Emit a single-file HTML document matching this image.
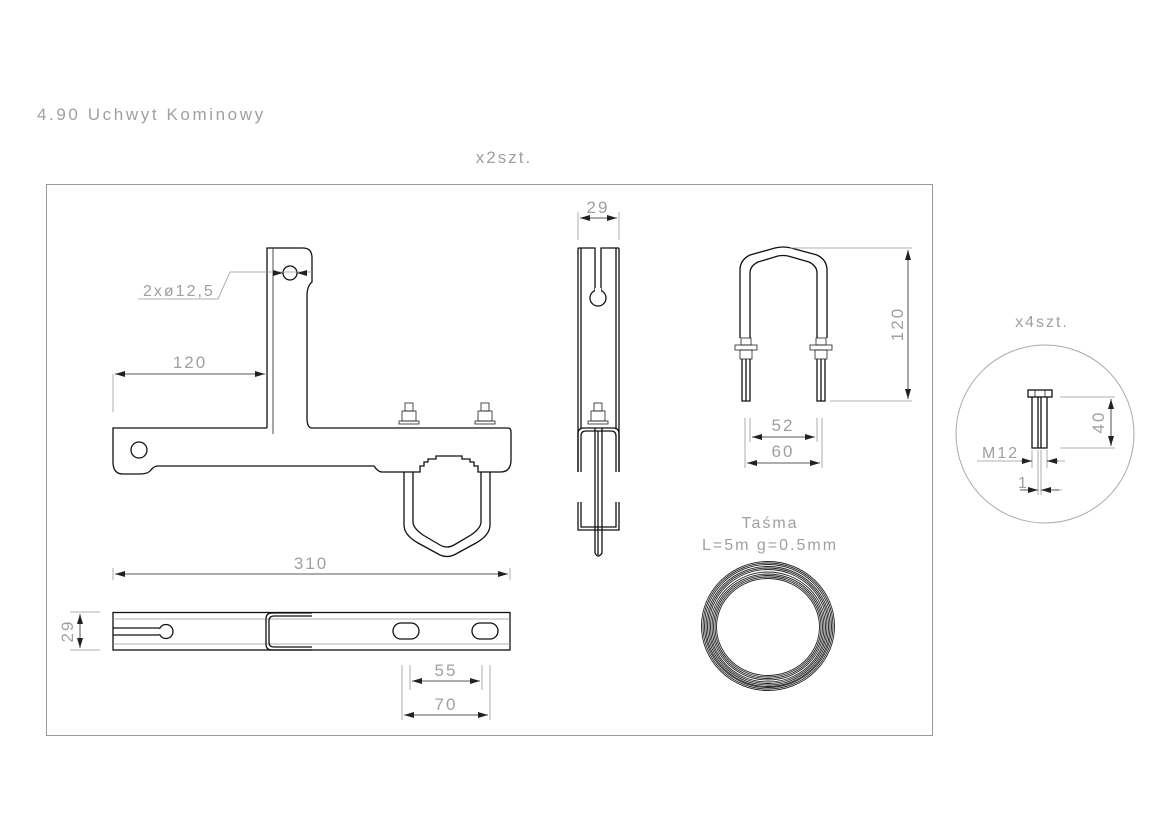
<!DOCTYPE html>
<html><head><meta charset="utf-8"><style>
html,body{margin:0;padding:0;background:#fff}
svg{display:block}
text{font-family:"Liberation Sans",sans-serif;fill:#a0a0a0;letter-spacing:2px}
.k{stroke:#111;stroke-width:1.3;fill:none}
.t{stroke:#222;stroke-width:.8;fill:none}
.g{stroke:#999;stroke-width:.8;fill:none}
</style></head><body>
<svg width="1173" height="824" viewBox="0 0 1173 824">
<defs><marker id="a" viewBox="0 0 10 6" refX="10" refY="3" markerWidth="10" markerHeight="6" orient="auto-start-reverse" markerUnits="userSpaceOnUse"><path d="M0,0L10,3L0,6z" fill="#222"/></marker></defs>
<text x="37" y="120" font-size="17" style="letter-spacing:2.6px">4.90 Uchwyt Kominowy</text>
<text x="504" y="163" font-size="17" text-anchor="middle">x2szt.</text>
<rect x="46.5" y="184.5" width="886" height="551" fill="none" stroke="#999" stroke-width="1"/>

<!-- T bracket -->
<path class="k" d="M267,428 V248 H303 Q312,248 312,258 V282 Q307,286 307,296 V418 Q307,428 312,428 H508 Q511,428 511,432 V460 Q511,472 500,472 H478 V466 H474 V462 H470 V459 H462 V456 H436 V459 H428 V462 H424 V466 H420 V472 H382 Q378,472 374,466 H158 Q154,466 151,470 Q148,474 140,474 H123 Q113,474 113,462 V428 H267"/>
<line class="t" x1="273" y1="248" x2="273" y2="434"/>
<circle class="k" cx="290" cy="273" r="7"/>
<circle class="k" cx="139" cy="450" r="8"/>
<path class="k" d="M404,472 V525 Q404,535 418,543 L440,555 Q447,558 454,555 L476,543 Q490,535 490,525 V472 M413,472 V522 Q413,528 423,535 L440,545 Q447,549 454,545 L471,535 Q481,528 481,522 V472"/>
<g class="t"><rect x="405" y="403" width="8" height="8"/><rect x="402" y="411" width="14" height="10"/><rect x="399" y="421" width="20" height="3"/>
<rect x="481" y="403" width="8" height="8"/><rect x="478" y="411" width="14" height="10"/><rect x="475" y="421" width="20" height="3"/></g>
<!-- dims -->
<line class="g" x1="113" y1="374" x2="113" y2="412"/>
<line class="t" x1="115" y1="374" x2="265" y2="374" marker-start="url(#a)" marker-end="url(#a)"/>
<text x="190" y="368" font-size="17" text-anchor="middle">120</text>
<path class="g" d="M138,299 H218 L230,272 H312"/>
<line class="t" x1="273" y1="273" x2="283" y2="273" marker-end="url(#a)"/>
<line class="t" x1="307" y1="273" x2="297" y2="273" marker-end="url(#a)"/>
<text x="143" y="296" font-size="16">2xø12,5</text>
<line class="g" x1="113" y1="568" x2="113" y2="580"/><line class="g" x1="510" y1="568" x2="510" y2="580"/>
<line class="t" x1="115" y1="574" x2="508" y2="574" marker-start="url(#a)" marker-end="url(#a)"/>
<text x="311" y="569" font-size="17" text-anchor="middle">310</text>

<!-- bottom view -->
<rect class="k" x="113" y="612.5" width="397" height="37.5"/>
<path class="g" d="M113,619 H510 M113,644 H510"/>
<path class="k" d="M113,628 H159 M113,635 H159"/>
<circle class="k" cx="166" cy="631.5" r="7" />
<rect x="156" y="629" width="4" height="5" fill="#fff"/>
<path class="k" d="M312,613 H272 Q266,613 266,619 V644 Q266,650 272,650 H312 M312,616 H274 Q269,616 269,621 V642 Q269,647 274,647 H312" fill="#fff"/>
<rect class="k" x="393" y="623" width="26" height="16" rx="8"/>
<rect class="k" x="472" y="623" width="26" height="16" rx="8"/>
<path class="g" d="M70,612 H100 M70,650 H100"/>
<line class="t" x1="80" y1="614" x2="80" y2="648" marker-start="url(#a)" marker-end="url(#a)"/>
<text transform="translate(73,631) rotate(-90)" font-size="17" text-anchor="middle">29</text>
<path class="g" d="M402,665 V720 M490,665 V720 M410,665 V690 M482,665 V690"/>
<line class="t" x1="412" y1="681" x2="480" y2="681" marker-start="url(#a)" marker-end="url(#a)"/>
<line class="t" x1="404" y1="715" x2="488" y2="715" marker-start="url(#a)" marker-end="url(#a)"/>
<text x="446" y="676" font-size="17" text-anchor="middle">55</text>
<text x="446" y="710" font-size="17" text-anchor="middle">70</text>

<!-- side view -->
<path class="k" d="M578,248 V472 M619,248 V472 M578,248 H595 V290 M619,248 H601 V290 M581,248 V428 M616,248 V428"/>
<circle class="k" cx="598" cy="298" r="8"/>
<rect x="595" y="288" width="6" height="4" fill="#fff"/>
<path class="k" d="M578,472 V434 Q578,428 584,428 H613 Q619,428 619,434 V472 M581,472 V436 Q581,431 586,431 H611 Q616,431 616,436 V472"/>
<path class="k" d="M578,502 V530 H619 V502 M581,502 V527 H616 V502"/>
<path class="k" d="M595,428 V553 Q598,559 602,553 V428 M598,431 V555"/>
<g class="t"><rect x="594" y="403" width="8" height="8"/><rect x="591" y="411" width="14" height="10"/><rect x="588" y="421" width="20" height="3"/></g>
<path class="g" d="M578,212 V240 M619,212 V240"/>
<line class="t" x1="580" y1="218" x2="617" y2="218" marker-start="url(#a)" marker-end="url(#a)"/>
<text x="598" y="213" font-size="17" text-anchor="middle">29</text>

<!-- U-bolt -->
<path class="k" d="M740,338 V270 Q740,260 750,255 L775,248 Q783,246 791,248 L817,255 Q827,260 827,270 V338 M750,338 V273 Q750,266 758,262 L778,256 Q783,255 788,256 L809,262 Q817,266 817,273 V338"/>
<g class="t"><rect x="741" y="338" width="10" height="7"/><rect x="735" y="345" width="22" height="5"/><rect x="740" y="350" width="12" height="9"/>
<rect x="816" y="338" width="10" height="7"/><rect x="810" y="345" width="22" height="5"/><rect x="815" y="350" width="12" height="9"/></g>
<path class="k" d="M742,359 V401 H750 V359 M746,359 V401 M817,359 V401 H825 V359 M821,359 V401"/>
<path class="g" d="M790,248 H912 M830,401 H912"/>
<line class="t" x1="908" y1="250" x2="908" y2="399" marker-start="url(#a)" marker-end="url(#a)"/>
<text transform="translate(903,324) rotate(-90)" font-size="17" text-anchor="middle">120</text>
<path class="g" d="M745,418 V468 M822,418 V468 M750,418 V442 M817,418 V442"/>
<line class="t" x1="752" y1="437" x2="815" y2="437" marker-start="url(#a)" marker-end="url(#a)"/>
<line class="t" x1="747" y1="463" x2="820" y2="463" marker-start="url(#a)" marker-end="url(#a)"/>
<text x="783" y="431" font-size="17" text-anchor="middle">52</text>
<text x="783" y="457" font-size="17" text-anchor="middle">60</text>

<!-- tape -->
<text x="770" y="528" font-size="16" text-anchor="middle">Taśma</text>
<text x="770" y="550" font-size="16" text-anchor="middle">L=5m  g=0.5mm</text>
<g fill="none" stroke="#222" stroke-width="0.9">
<ellipse cx="768" cy="626" rx="66.5" ry="64.5"/><ellipse cx="768" cy="626" rx="65" ry="63"/><ellipse cx="768" cy="626" rx="63.5" ry="61.5"/><ellipse cx="768" cy="626.5" rx="62" ry="60"/><ellipse cx="768" cy="626.5" rx="60.5" ry="58.5"/><ellipse cx="768" cy="626.5" rx="59" ry="57"/><ellipse cx="768" cy="627" rx="57.5" ry="55"/><ellipse cx="768" cy="627" rx="56" ry="53"/><ellipse cx="768" cy="627" rx="54.5" ry="51.5"/><ellipse cx="768" cy="627" rx="53" ry="50"/><ellipse cx="768" cy="627" rx="51.5" ry="48.5"/>
</g>

<!-- bolt circle -->
<text x="1042" y="327" font-size="16" text-anchor="middle">x4szt.</text>
<circle cx="1045" cy="434" r="89" fill="none" stroke="#aaa" stroke-width="1"/>
<rect class="k" x="1028" y="390" width="24" height="7"/>
<path class="t" d="M1035,390 V397 M1045,390 V397"/>
<path class="k" d="M1032,397 V448 H1047 V397 M1038,397 V448 M1041,397 V448"/>
<path class="g" d="M1060,397 H1115 M1060,448 H1115"/>
<line class="t" x1="1111" y1="399" x2="1111" y2="446" marker-start="url(#a)" marker-end="url(#a)"/>
<text transform="translate(1104,422) rotate(-90)" font-size="17" text-anchor="middle">40</text>
<text x="982" y="458" font-size="16">M12</text>
<path class="g" d="M977,461 H1021 M1032,450 V468 M1047,450 V468 M1038,450 V495 M1041,450 V495 M1055,461 H1065 M1055,490 H1062"/>
<line class="t" x1="1021" y1="461" x2="1032" y2="461" marker-end="url(#a)"/>
<line class="t" x1="1058" y1="461" x2="1047" y2="461" marker-end="url(#a)"/>
<line class="t" x1="1020" y1="490" x2="1038" y2="490" marker-end="url(#a)"/>
<line class="t" x1="1059" y1="490" x2="1041" y2="490" marker-end="url(#a)"/>
<text x="1018" y="488" font-size="16">1</text>
</svg>
</body></html>
